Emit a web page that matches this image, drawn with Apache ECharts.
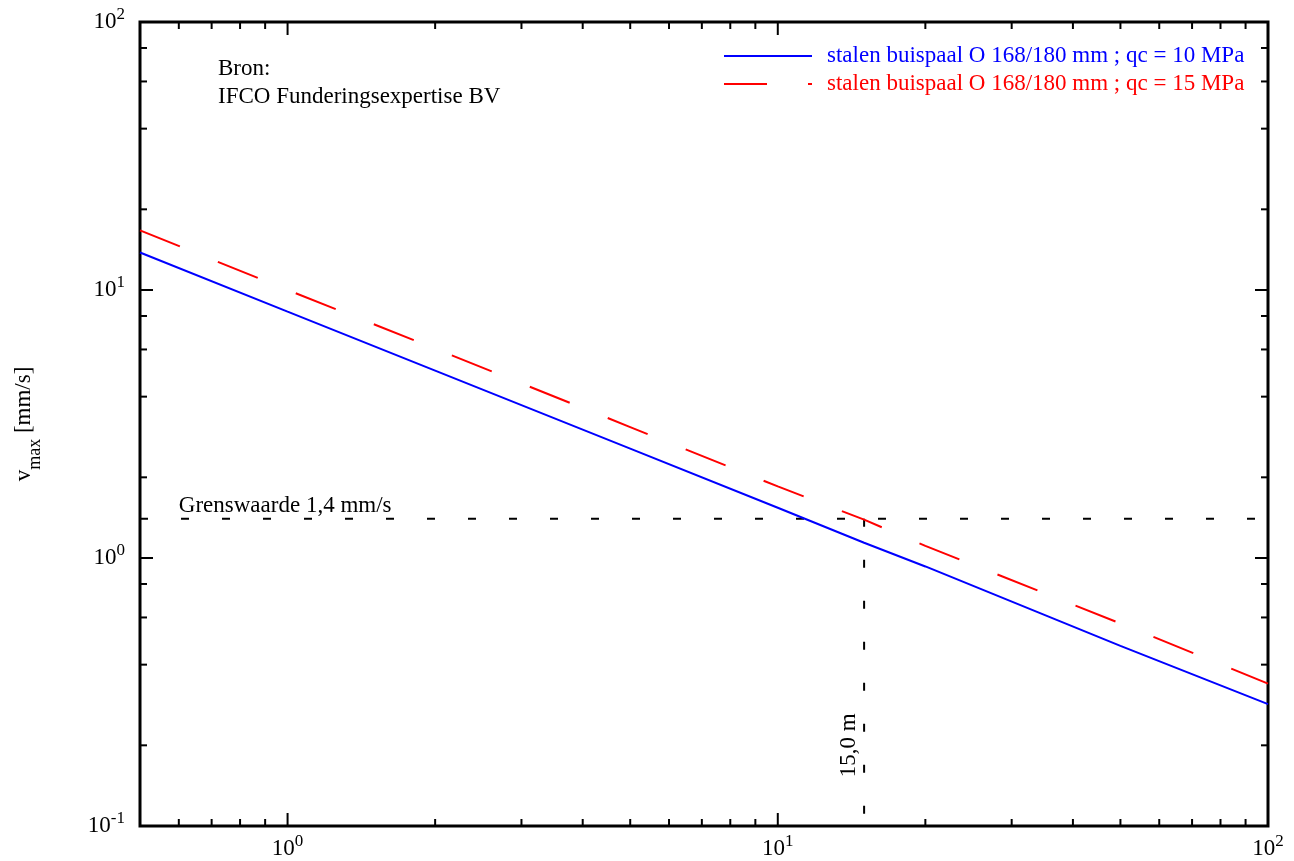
<!DOCTYPE html>
<html>
<head>
<meta charset="utf-8">
<script src="https://cdn.jsdelivr.net/npm/echarts@6/dist/echarts.min.js"></script>
<style>
html,body{margin:0;padding:0;background:#fff;}
#chart{width:1294px;height:861px;}
</style>
</head>
<body>
<div id="chart"></div>
<script>
// ---- data ----
const distance = [0.5, 1, 2, 5, 10, 15, 20, 50, 100];
const vmaxQc10 = [13.8, 8.3, 5.0, 2.56, 1.54, 1.14, 0.93, 0.47, 0.285];
const vmaxQc15 = [16.7, 10.0, 6.04, 3.08, 1.85, 1.39, 1.11, 0.57, 0.34];
const seriesNames = ['stalen buispaal O 168/180 mm ; qc = 10 MPa', 'stalen buispaal O 168/180 mm ; qc = 15 MPa'];
const limitValue = 1.4;
const limitDistance = 15;
const xRange = [0.5, 100];
const yRange = [0.1, 100];
const xMajorTicks = [1, 10, 100];
const xMinorTicks = [0.6, 0.7, 0.8, 0.9, 2, 3, 4, 5, 6, 7, 8, 9, 20, 30, 40, 50, 60, 70, 80, 90];
const yMajorTicks = [0.1, 1, 10, 100];
const yMinorTicks = [0.2, 0.4, 0.6, 0.8, 2, 4, 6, 8, 20, 40, 60, 80];
const limitLabel = 'Grenswaarde 1,4 mm/s';
const limitLabelX = 0.6;
const distanceLabel = '15,0 m';
const distanceLabelY = 0.2;
const sourceText = 'Bron:\nIFCO Funderingsexpertise BV';

const FONT = "'Liberation Serif', 'Times New Roman', serif";

const chart = echarts.init(document.getElementById('chart'), null, {renderer: 'canvas'});

function powLabel(v) {
  const e = Math.log10(v);
  const r = Math.round(e);
  if (Math.abs(e - r) > 1e-6) return '';
  return '{b|10}{s|' + r + '}';
}
const labelRich = {
  b: {fontFamily: FONT, fontSize: 23, lineHeight: 32, color: '#000', verticalAlign: 'middle'},
  s: {fontFamily: FONT, fontSize: 17, lineHeight: 17, color: '#000', verticalAlign: 'top'}
};

const xTickData = xMajorTicks.map(v => [v, 1, 1]).concat(xMinorTicks.map(v => [v, 1, 0]));
const yTickData = yMajorTicks.map(v => [1, v, 1]).concat(yMinorTicks.map(v => [1, v, 0]));

function renderXTick(params, api) {
  const cs = params.coordSys;
  const p = api.coord([api.value(0), api.value(1)]);
  const len = api.value(2) ? 13 : 7;
  const bottom = cs.y + cs.height, top = cs.y;
  return {
    type: 'group',
    children: [
      {type: 'line', shape: {x1: p[0], y1: bottom, x2: p[0], y2: bottom - len}, style: {stroke: '#000', lineWidth: 2}},
      {type: 'line', shape: {x1: p[0], y1: top, x2: p[0], y2: top + len}, style: {stroke: '#000', lineWidth: 2}}
    ]
  };
}
function renderYTick(params, api) {
  const cs = params.coordSys;
  const p = api.coord([api.value(0), api.value(1)]);
  const len = api.value(2) ? 13 : 7;
  const left = cs.x, right = cs.x + cs.width;
  return {
    type: 'group',
    children: [
      {type: 'line', shape: {x1: left, y1: p[1], x2: left + len, y2: p[1]}, style: {stroke: '#000', lineWidth: 2}},
      {type: 'line', shape: {x1: right, y1: p[1], x2: right - len, y2: p[1]}, style: {stroke: '#000', lineWidth: 2}}
    ]
  };
}
function renderAnnotations(params, api) {
  const a = api.coord([limitLabelX, limitValue]);
  const b = api.coord([limitDistance, distanceLabelY]);
  return {
    type: 'group',
    children: [
      {type: 'text', x: a[0], y: a[1] - 1, style: {text: limitLabel, font: '23px ' + FONT, fill: '#000', align: 'left', verticalAlign: 'bottom'}},
      {type: 'text', x: b[0] - 4, y: b[1], rotation: Math.PI / 2, style: {text: distanceLabel, font: '23px ' + FONT, fill: '#000', align: 'center', verticalAlign: 'bottom'}}
    ]
  };
}

const option = {
  animation: false,
  backgroundColor: '#fff',
  grid: {left: 140, top: 22, width: 1128, height: 804, show: true, borderColor: '#000', borderWidth: 3, backgroundColor: 'transparent'},
  legend: {
    orient: 'vertical',
    left: 723,
    top: 44,
    padding: 0,
    itemWidth: 88,
    itemHeight: 14,
    itemGap: 4,
    itemStyle: {opacity: 0, borderWidth: 0},
    textStyle: {fontFamily: FONT, fontSize: 23, lineHeight: 24, padding: [0, 0, 0, 10]},
    data: [
      {name: seriesNames[0], textStyle: {color: '#0000ff'}},
      {name: seriesNames[1], textStyle: {color: '#ff0000'}}
    ]
  },
  graphic: [
    {type: 'text', left: 218, top: 55, style: {text: sourceText, font: '23px ' + FONT, fill: '#000', lineHeight: 28}}
  ],
  xAxis: {
    type: 'log', logBase: 10, min: xRange[0], max: xRange[1],
    axisLine: {show: false}, axisTick: {show: false}, splitLine: {show: false},
    axisLabel: {margin: 7, fontSize: 23, fontFamily: FONT, showMinLabel: false, formatter: powLabel, rich: labelRich}
  },
  yAxis: {
    type: 'log', logBase: 10, min: yRange[0], max: yRange[1],
    axisLine: {show: false}, axisTick: {show: false}, splitLine: {show: false},
    axisLabel: {margin: 15, fontSize: 23, fontFamily: FONT, formatter: powLabel, rich: labelRich},
    name: '{v|v}{sub|max}{u| [mm/s]}',
    nameLocation: 'middle', nameRotate: 90, nameGap: 96,
    nameTextStyle: {
      fontSize: 23, fontFamily: FONT,
      rich: {
        v: {fontFamily: FONT, fontSize: 23, lineHeight: 40, color: '#000', verticalAlign: 'middle'},
        sub: {fontFamily: FONT, fontSize: 18, lineHeight: 18, color: '#000', verticalAlign: 'bottom'},
        u: {fontFamily: FONT, fontSize: 23, lineHeight: 40, color: '#000', verticalAlign: 'middle'}
      }
    }
  },
  series: [
    {name: 'limitH', type: 'line', data: [[xRange[0], limitValue], [xRange[1], limitValue]], symbol: 'none', lineStyle: {color: '#000', width: 2, type: [8, 33]}, z: 2},
    {name: 'limitV', type: 'line', data: [[limitDistance, limitValue], [limitDistance, yRange[0]]], symbol: 'none', lineStyle: {color: '#000', width: 2, type: [8, 33]}, z: 2},
    {name: seriesNames[0], type: 'line', data: distance.map((d, i) => [d, vmaxQc10[i]]), symbol: 'none', color: '#0000ff', lineStyle: {color: '#0000ff', width: 2}, z: 3},
    {name: seriesNames[1], type: 'line', data: distance.map((d, i) => [d, vmaxQc15[i]]), symbol: 'none', color: '#ff0000', lineStyle: {color: '#ff0000', width: 2, type: [43, 41]}, z: 3},
    {name: 'xticks', type: 'custom', renderItem: renderXTick, data: xTickData, clip: false, silent: true, z: 5},
    {name: 'yticks', type: 'custom', renderItem: renderYTick, data: yTickData, clip: false, silent: true, z: 5},
    {name: 'annotations', type: 'custom', renderItem: renderAnnotations, data: [[1, 1]], clip: false, silent: true, z: 5}
  ]
};
chart.setOption(option);
</script>
</body>
</html>
